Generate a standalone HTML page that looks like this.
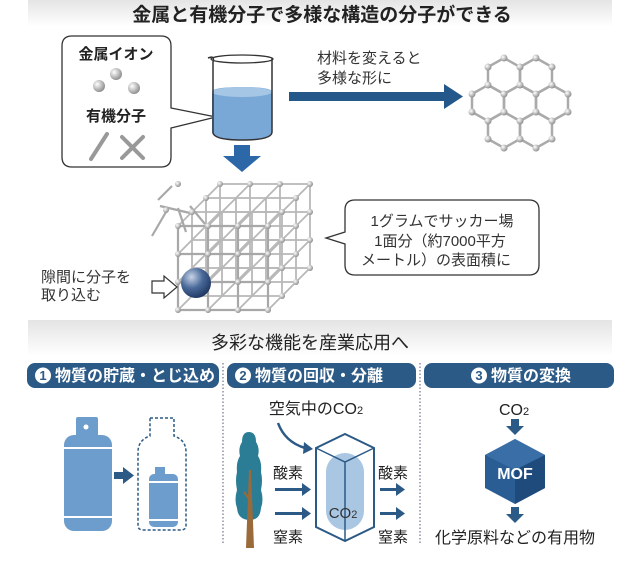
<!DOCTYPE html>
<html><head><meta charset="utf-8"><style>
html,body{margin:0;padding:0;background:#fff}
svg{display:block}
text{font-family:"Liberation Sans","Noto Sans CJK JP",sans-serif}
</style></head><body>
<svg width="640" height="565" viewBox="0 0 640 565" xmlns="http://www.w3.org/2000/svg">
<defs>
<linearGradient id="band" x1="0" y1="0" x2="0" y2="1"><stop offset="0" stop-color="#e4e4e4"/><stop offset="1" stop-color="#ffffff"/></linearGradient>
<radialGradient id="ball" cx="0.35" cy="0.35" r="0.7"><stop offset="0" stop-color="#fff"/><stop offset="1" stop-color="#8a8a8a"/></radialGradient>
<radialGradient id="bball" cx="0.35" cy="0.3" r="0.75"><stop offset="0" stop-color="#c8d4e6"/><stop offset="0.5" stop-color="#4a6a9a"/><stop offset="1" stop-color="#1d3560"/></radialGradient>
</defs>
<rect x="28" y="0" width="584" height="27" fill="url(#band)"/>
<text x="322" y="21" font-size="19" font-weight="bold" text-anchor="middle" fill="#222">金属と有機分子で多様な構造の分子ができる</text>

<path d="M72 36 H161 Q171 36 171 46 V108 L216 117 L171 128 V157 Q171 167 161 167 H72 Q62 167 62 157 V46 Q62 36 72 36 Z" fill="#fff" stroke="#333" stroke-width="1.3"/>
<text x="116" y="59" font-size="15" font-weight="bold" text-anchor="middle" fill="#222">金属イオン</text>
<circle cx="116" cy="74" r="6" fill="url(#ball)"/><circle cx="99" cy="86" r="6" fill="url(#ball)"/><circle cx="134" cy="88" r="6" fill="url(#ball)"/>
<text x="116" y="121" font-size="15" font-weight="bold" text-anchor="middle" fill="#222">有機分子</text>
<g stroke="#999" stroke-width="4" stroke-linecap="round"><line x1="91" y1="159" x2="107" y2="134"/><line x1="122" y1="137" x2="143" y2="158"/><line x1="143" y1="137" x2="122" y2="158"/></g>

<path d="M212 92 Q212 87 242 87 Q272 87 272 92 V132 Q272 140 242 140 Q212 140 212 132 Z" fill="#7aa8d6"/>
<ellipse cx="242" cy="92" rx="30" ry="5" fill="#a6c6e6"/>
<path d="M208 58 Q215 55 213 62 V132 Q213 140 242 140 Q272 140 272 132 V58" fill="none" stroke="#333" stroke-width="1.5"/>
<ellipse cx="242" cy="59" rx="31" ry="4" fill="none" stroke="#333" stroke-width="1.3"/>

<rect x="289" y="92" width="156" height="9" fill="#24578a"/>
<polygon points="444,84 463,96.5 444,109" fill="#24578a"/>
<text x="317" y="63" font-size="15" fill="#333">材料を変えると</text>
<text x="317" y="83" font-size="15" fill="#333">多様な形に</text>

<g stroke="#aaa" stroke-width="2.5" fill="none">
<polygon points="504,58 520,67 520,85 504,94 488,85 488,67"/>
<polygon points="536,58 552,67 552,85 536,94 520,85 520,67"/>
<polygon points="488,85 504,94 504,112 488,121 472,112 472,94"/>
<polygon points="520,85 536,94 536,112 520,121 504,112 504,94"/>
<polygon points="552,85 568,94 568,112 552,121 536,112 536,94"/>
<polygon points="504,112 520,121 520,139 504,148 488,139 488,121"/>
<polygon points="536,112 552,121 552,139 536,148 520,139 520,121"/>
</g>
<g fill="url(#ball)">
<circle cx="504" cy="58" r="3.5"/><circle cx="536" cy="58" r="3.5"/><circle cx="520" cy="67" r="3.5"/><circle cx="488" cy="67" r="3.5"/><circle cx="552" cy="67" r="3.5"/>
<circle cx="488" cy="85" r="3.5"/><circle cx="520" cy="85" r="3.5"/><circle cx="552" cy="85" r="3.5"/><circle cx="472" cy="94" r="3.5"/><circle cx="504" cy="94" r="3.5"/><circle cx="536" cy="94" r="3.5"/><circle cx="568" cy="94" r="3.5"/>
<circle cx="472" cy="112" r="3.5"/><circle cx="504" cy="112" r="3.5"/><circle cx="536" cy="112" r="3.5"/><circle cx="568" cy="112" r="3.5"/><circle cx="488" cy="121" r="3.5"/><circle cx="520" cy="121" r="3.5"/><circle cx="552" cy="121" r="3.5"/>
<circle cx="488" cy="139" r="3.5"/><circle cx="520" cy="139" r="3.5"/><circle cx="552" cy="139" r="3.5"/><circle cx="504" cy="148" r="3.5"/><circle cx="536" cy="148" r="3.5"/>
</g>

<rect x="234" y="145" width="16" height="12" fill="#2c67a8"/>
<polygon points="223,156 261,156 242,172" fill="#2c67a8"/>

<g stroke="#b8b8b8" stroke-width="1.8" fill="none">
<path d="M220 184 H310 M220 212 H310 M220 240 H310 M220 268 H310 M220 184 V268 M250 184 V268 M280 184 V268 M310 184 V268"/>
<path d="M206 198 H296 M206 226 H296 M206 254 H296 M206 282 H296 M206 198 V282 M236 198 V282 M266 198 V282 M296 198 V282"/>
<path d="M192 212 H282 M192 240 H282 M192 268 H282 M192 296 H282 M192 212 V296 M222 212 V296 M252 212 V296 M282 212 V296"/>
<path d="M178 226 L220 184 M208 226 L250 184 M238 226 L280 184 M268 226 L310 184
M178 254 L220 212 M208 254 L250 212 M238 254 L280 212 M268 254 L310 212
M178 282 L220 240 M208 282 L250 240 M238 282 L280 240 M268 282 L310 240
M178 310 L220 268 M208 310 L250 268 M238 310 L280 268 M268 310 L310 268"/>
</g>
<g stroke="#a8a8a8" stroke-width="2.2" fill="none">
<path d="M178 226 H268 M178 254 H268 M178 282 H268 M178 310 H268 M178 226 V310 M208 226 V310 M238 226 V310 M268 226 V310"/>
<path d="M158 200 L172 186 M160 206 L190 213 M152 236 L166 212 M178 208 L186 232 M190 206 L205 224"/>
</g>
<g fill="url(#ball)">
<circle cx="178" cy="226" r="3"/><circle cx="208" cy="226" r="3"/><circle cx="238" cy="226" r="3"/><circle cx="268" cy="226" r="3"/>
<circle cx="178" cy="254" r="3"/><circle cx="208" cy="254" r="3"/><circle cx="238" cy="254" r="3"/><circle cx="268" cy="254" r="3"/>
<circle cx="178" cy="282" r="3"/><circle cx="238" cy="282" r="3"/><circle cx="268" cy="282" r="3"/>
<circle cx="178" cy="310" r="3"/><circle cx="208" cy="310" r="3"/><circle cx="238" cy="310" r="3"/><circle cx="268" cy="310" r="3"/>
<circle cx="220" cy="184" r="3"/><circle cx="250" cy="184" r="3"/><circle cx="280" cy="184" r="3"/><circle cx="310" cy="184" r="3"/>
<circle cx="206" cy="198" r="3"/><circle cx="192" cy="212" r="3"/><circle cx="296" cy="198" r="3"/><circle cx="282" cy="212" r="3"/>
<circle cx="310" cy="212" r="3"/><circle cx="310" cy="240" r="3"/><circle cx="310" cy="268" r="3"/>
<circle cx="296" cy="226" r="3"/><circle cx="296" cy="254" r="3"/><circle cx="296" cy="282" r="3"/><circle cx="282" cy="240" r="3"/><circle cx="282" cy="268" r="3"/><circle cx="282" cy="296" r="3"/>
<circle cx="178" cy="184" r="3"/><circle cx="166" cy="210" r="3"/>
</g>
<circle cx="196" cy="283" r="15" fill="url(#bball)"/>

<path d="M355 200 H529 Q539 200 539 210 V265 Q539 275 529 275 H355 Q345 275 345 265 V244 L326 238 L345 232 V210 Q345 200 355 200 Z" fill="#fff" stroke="#333" stroke-width="1.3"/>
<text x="442" y="226" font-size="15" text-anchor="middle" fill="#333">1グラムでサッカー場</text>
<text x="440" y="246" font-size="15" text-anchor="middle" fill="#333">1面分（約7000平方</text>
<text x="436" y="265" font-size="15" text-anchor="middle" fill="#333">メートル）の表面積に</text>

<text x="41" y="282" font-size="15" fill="#333">隙間に分子を</text>
<text x="41" y="300" font-size="15" fill="#333">取り込む</text>
<polygon points="152,281 164,281 164,276 177,287 164,298 164,293 152,293" fill="#fff" stroke="#333" stroke-width="1.2"/>

<rect x="28" y="320" width="584" height="36" fill="url(#band)"/>
<text x="310" y="349" font-size="18" text-anchor="middle" fill="#222">多彩な機能を産業応用へ</text>

<g fill="#2b5a86">
<rect x="27" y="363" width="192" height="25" rx="8"/><rect x="227" y="363" width="189" height="25" rx="8"/><rect x="424" y="363" width="190" height="25" rx="8"/>
</g>
<g fill="#fff"><circle cx="43" cy="375.5" r="8"/><circle cx="243" cy="375.5" r="8"/><circle cx="479" cy="375.5" r="8"/></g>
<g font-size="13" font-weight="bold" fill="#2b5a86" text-anchor="middle"><text x="43" y="380">1</text><text x="243" y="380">2</text><text x="479" y="380">3</text></g>
<g font-size="16" font-weight="bold" fill="#fff"><text x="55" y="381">物質の貯蔵・とじ込め</text><text x="255" y="381">物質の回収・分離</text><text x="491" y="381">物質の変換</text></g>
<g stroke="#557" stroke-width="1" stroke-dasharray="1.5 2"><line x1="223" y1="363" x2="223" y2="545"/><line x1="420" y1="363" x2="420" y2="545"/></g>

<g fill="#6d9dcc">
<rect x="76" y="417" width="22" height="20" rx="2"/>
<rect x="64" y="435" width="48" height="96" rx="10"/>
<rect x="155" y="467" width="10" height="8"/><rect x="149" y="474" width="29" height="53" rx="5"/>
</g>
<g stroke="#fff" stroke-width="2"><line x1="64" y1="448" x2="112" y2="448"/><line x1="64" y1="517" x2="112" y2="517"/><line x1="149" y1="482" x2="178" y2="482"/><line x1="149" y1="520" x2="178" y2="520"/></g>
<circle cx="86" cy="427" r="2.5" fill="#fff"/>
<rect x="114" y="472" width="10" height="7" fill="#2b5a86"/><polygon points="123,467 134,475.5 123,484" fill="#2b5a86"/>
<path d="M150 418 H174 V436 Q186 440 186 452 V526 Q186 530 180 530 H144 Q138 530 138 526 V452 Q138 440 150 436 Z" fill="none" stroke="#2b5a86" stroke-width="1.5" stroke-dasharray="3 2"/>

<text x="316" y="414" font-size="16" text-anchor="middle" fill="#222">空気中のCO<tspan font-size="11">2</tspan></text>
<path d="M278 423 Q285 442 305 448" fill="none" stroke="#2b5a86" stroke-width="2.5"/><polygon points="304,442 313,449 303,454" fill="#2b5a86"/>
<path d="M249 432 Q256 432 256 442 Q260 448 258 456 Q262 462 261 472 Q263 480 261 490 Q264 500 261 508 Q260 520 250 520 Q238 520 237 508 Q234 500 237 490 Q235 480 237 472 Q236 462 240 456 Q238 448 242 442 Q242 432 249 432 Z" fill="#2a7d95"/>
<polygon points="246,548 249,470 251,470 254,548" fill="#9a6a3a"/>
<line x1="250" y1="500" x2="244" y2="492" stroke="#9a6a3a" stroke-width="2"/>
<g font-size="15" fill="#222"><text x="273" y="478">酸素</text><text x="273" y="542">窒素</text><text x="378" y="478">酸素</text><text x="378" y="542">窒素</text></g>
<g fill="#2b5a86">
<rect x="275" y="488" width="28" height="3"/><polygon points="302,483 311,489.5 302,496"/>
<rect x="275" y="512" width="28" height="3"/><polygon points="302,507 311,513.5 302,520"/>
<rect x="380" y="488" width="17" height="3"/><polygon points="396,483 405,489.5 396,496"/>
<rect x="380" y="512" width="17" height="3"/><polygon points="396,507 405,513.5 396,520"/>
</g>
<rect x="326" y="453" width="38" height="77" rx="19" fill="#a9c6e3"/>
<polygon points="345,434 374,448 374,527 345,541 316,527 316,448" fill="none" stroke="#2b5a86" stroke-width="2"/>
<polyline points="316,448 345,462 374,448" fill="none" stroke="#2b5a86" stroke-width="1.5"/><line x1="345" y1="462" x2="345" y2="541" stroke="#2b5a86" stroke-width="1.5"/>
<text x="343" y="518" font-size="15" text-anchor="middle" fill="#333">CO<tspan font-size="11">2</tspan></text>

<text x="514" y="415" font-size="16" text-anchor="middle" fill="#222">CO<tspan font-size="11">2</tspan></text>
<rect x="511" y="419" width="8" height="8" fill="#2b5a86"/><polygon points="506,426 524,426 515,435" fill="#2b5a86"/>
<polygon points="515,439 545,455 545,488 515,504 485,488 485,455" fill="#2a5d94"/>
<polygon points="515,439 545,455 515,470 485,455" fill="#3a6ea6"/>
<polygon points="515,470 545,455 545,488 515,504" fill="#1f4b7c"/>
<text x="515" y="479" font-size="16" font-weight="bold" text-anchor="middle" fill="#fff">MOF</text>
<rect x="511" y="507" width="8" height="8" fill="#2b5a86"/><polygon points="506,514 524,514 515,523" fill="#2b5a86"/>
<text x="515" y="543" font-size="16" text-anchor="middle" fill="#222">化学原料などの有用物</text>
</svg>
</body></html>
